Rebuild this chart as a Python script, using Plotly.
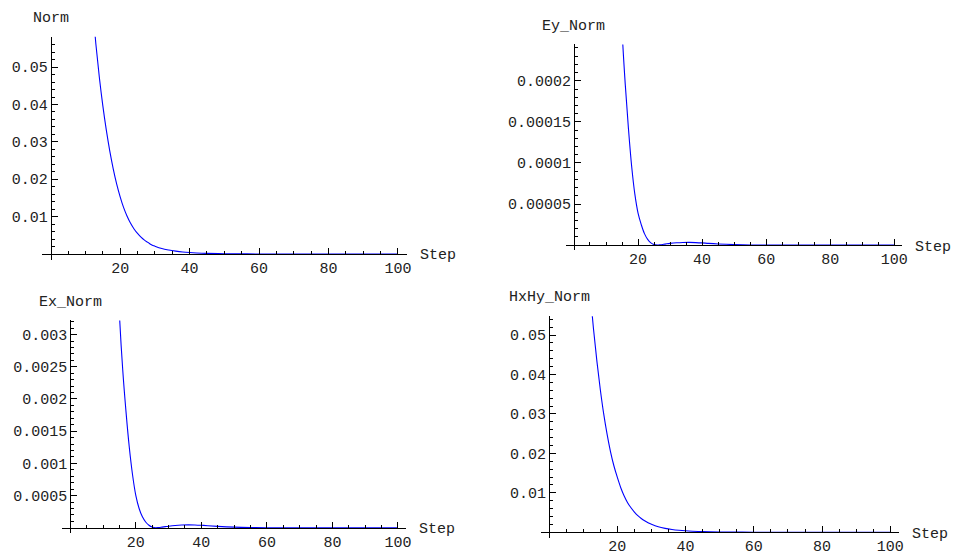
import plotly.graph_objects as go

# ---- data -------------------------------------------------------------
steps = [10, 11, 12, 13, 14, 15, 16, 17, 18, 19, 20, 21, 22, 23, 24, 25, 26,
         27, 28, 29, 30, 32, 34, 36, 38, 40, 42, 45, 50, 55, 60, 70, 80, 90, 100]

norm = [0.0935, 0.0790, 0.0667, 0.0562, 0.0473, 0.0397, 0.0332, 0.0276,
        0.0228, 0.0187, 0.0153, 0.0124, 0.0101, 0.0082, 0.0067, 0.0055,
        0.0045, 0.0037, 0.0031, 0.0025, 0.0021, 0.00145, 0.00105, 0.00076,
        0.00054, 0.00039, 0.00028, 0.00017, 0.00007, 0.00003, 0.000012,
        0.000002, 0.0000003, 0.0, 0.0]

ey_norm = [0.00110, 0.00085, 0.00065, 0.00049, 0.00036, 0.000262, 0.000196,
           0.000142, 0.000096, 0.000062, 0.000039, 0.000025, 0.000014,
           0.0000070, 0.0000028, 0.0000006, 0.0, 0.0000004, 0.0000010,
           0.0000016, 0.0000021, 0.0000028, 0.0000032, 0.0000033, 0.0000031,
           0.0000027, 0.0000021, 0.0000014, 0.0000006, 0.0000002, 0.0000001,
           0.0, 0.0, 0.0, 0.0]

ex_norm = [0.0145, 0.0113, 0.0087, 0.0066, 0.0046, 0.00330, 0.00245, 0.00180,
           0.00125, 0.00082, 0.00050, 0.00030, 0.00017, 0.000090, 0.000040,
           0.000011, 0.0000005, 0.000004, 0.000011, 0.000018, 0.000025,
           0.000036, 0.000043, 0.000046, 0.000044, 0.000039, 0.000032,
           0.000022, 0.000010, 0.000004, 0.0000015, 0.0000002, 0.0, 0.0, 0.0]

hxhy_norm = [0.0860, 0.0725, 0.0610, 0.0516, 0.0434, 0.0362, 0.0300, 0.0248,
             0.0204, 0.0168, 0.0139, 0.0113, 0.0092, 0.0075, 0.0062, 0.0051,
             0.0042, 0.0035, 0.0029, 0.0024, 0.0020, 0.00138, 0.00098,
             0.00070, 0.00050, 0.00036, 0.00026, 0.00015, 0.00006, 0.000025,
             0.00001, 0.0000017, 0.0000003, 0.0, 0.0]

x_ticks = [20, 40, 60, 80, 100]
x_tick_labels = ["20", "40", "60", "80", "100"]
x_minor = [5, 10, 15, 25, 30, 35, 45, 50, 55, 65, 70, 75, 85, 90, 95]

norm_ticks = [0.01, 0.02, 0.03, 0.04, 0.05]
norm_tick_labels = ["0.01", "0.02", "0.03", "0.04", "0.05"]
norm_minor = [k * 0.002 for k in range(1, 30)]

ey_ticks = [0.00005, 0.0001, 0.00015, 0.0002]
ey_tick_labels = ["0.00005", "0.0001", "0.00015", "0.0002"]
ey_minor = [k * 0.00001 for k in range(1, 25)]

ex_ticks = [0.0005, 0.001, 0.0015, 0.002, 0.0025, 0.003]
ex_tick_labels = ["0.0005", "0.001", "0.0015", "0.002", "0.0025", "0.003"]
ex_minor = [k * 0.0001 for k in range(1, 33)]

x_range = [-2.5, 102.5]

# ---- page geometry (pixels) ------------------------------------------
W, H = 957, 556
FONT = dict(family="'Liberation Mono', 'Courier New', monospace", size=15,
            color="#222222")

panels = [
    dict(title="Norm", y=norm, ticks=norm_ticks, labels=norm_tick_labels,
         minor=norm_minor, yrange=[-0.0015, 0.0581],
         x0=51.0, xs=3.49, y0=257.7, ys=3792.0),
    dict(title="Ey_Norm", y=ey_norm, ticks=ey_ticks, labels=ey_tick_labels,
         minor=ey_minor, yrange=[-0.0000062, 0.0002444],
         x0=577.0, xs=3.22, y0=248.7, ys=833333.0),
    dict(title="Ex_Norm", y=ex_norm, ticks=ex_ticks, labels=ex_tick_labels,
         minor=ex_minor, yrange=[-0.00008, 0.00322],
         x0=70.7, xs=3.293, y0=535.5, ys=65340.0),
    dict(title="HxHy_Norm", y=hxhy_norm, ticks=norm_ticks,
         labels=norm_tick_labels, minor=norm_minor, yrange=[-0.0014, 0.0548],
         x0=552.0, xs=3.43, y0=540.0, ys=4000.0),
]

fig = go.Figure()
layout = dict(width=W, height=H, margin=dict(l=0, r=0, t=0, b=0),
              paper_bgcolor="white", plot_bgcolor="white", showlegend=False,
              font=FONT)
annotations = []

for i, p in enumerate(panels, start=1):
    sfx = "" if i == 1 else str(i)
    left = p["x0"] + x_range[0] * p["xs"]
    right = p["x0"] + x_range[1] * p["xs"]
    top = p["y0"] - p["yrange"][1] * p["ys"]
    bottom = p["y0"] - p["yrange"][0] * p["ys"]

    fig.add_trace(go.Scatter(
        x=steps, y=p["y"], xaxis="x" + sfx, yaxis="y" + sfx, mode="lines",
        line=dict(color="#0000ff", width=1.1, shape="spline"),
        hoverinfo="skip"))

    layout["xaxis" + sfx] = dict(
        domain=[left / W, right / W], range=x_range, anchor="free",
        position=1 - p["y0"] / H, showline=True, linecolor="black",
        linewidth=1, ticks="inside", ticklen=6, tickwidth=1,
        tickcolor="black", tickmode="array", tickvals=x_ticks,
        ticktext=x_tick_labels, showgrid=False, zeroline=False,
        tickfont=FONT, fixedrange=True,
        minor=dict(tickmode="array", tickvals=x_minor, ticks="inside",
                   ticklen=3, tickwidth=1, tickcolor="black", showgrid=False))
    layout["yaxis" + sfx] = dict(
        domain=[1 - bottom / H, 1 - top / H], range=p["yrange"],
        anchor="free", position=p["x0"] / W, side="left", showline=True,
        linecolor="black", linewidth=1, ticks="inside", ticklen=6,
        tickwidth=1, tickcolor="black", tickmode="array",
        tickvals=p["ticks"], ticktext=p["labels"], showgrid=False,
        zeroline=False, tickfont=FONT, fixedrange=True,
        minor=dict(tickmode="array", tickvals=p["minor"], ticks="inside",
                   ticklen=3, tickwidth=1, tickcolor="black", showgrid=False))

    # axis captions: variable name above the y axis, "Step" after the x axis
    annotations.append(dict(
        text=p["title"], xref="paper", yref="paper", x=p["x0"] / W,
        y=1 - (top - 18.5) / H, xanchor="center", yanchor="middle",
        showarrow=False, font=FONT))
    annotations.append(dict(
        text="Step", xref="paper", yref="paper", x=(right + 11) / W,
        y=1 - (p["y0"] + 2) / H, xanchor="left", yanchor="middle",
        showarrow=False, font=FONT))

layout["annotations"] = annotations
fig.update_layout(**layout)
fig.write_html("out.html")
